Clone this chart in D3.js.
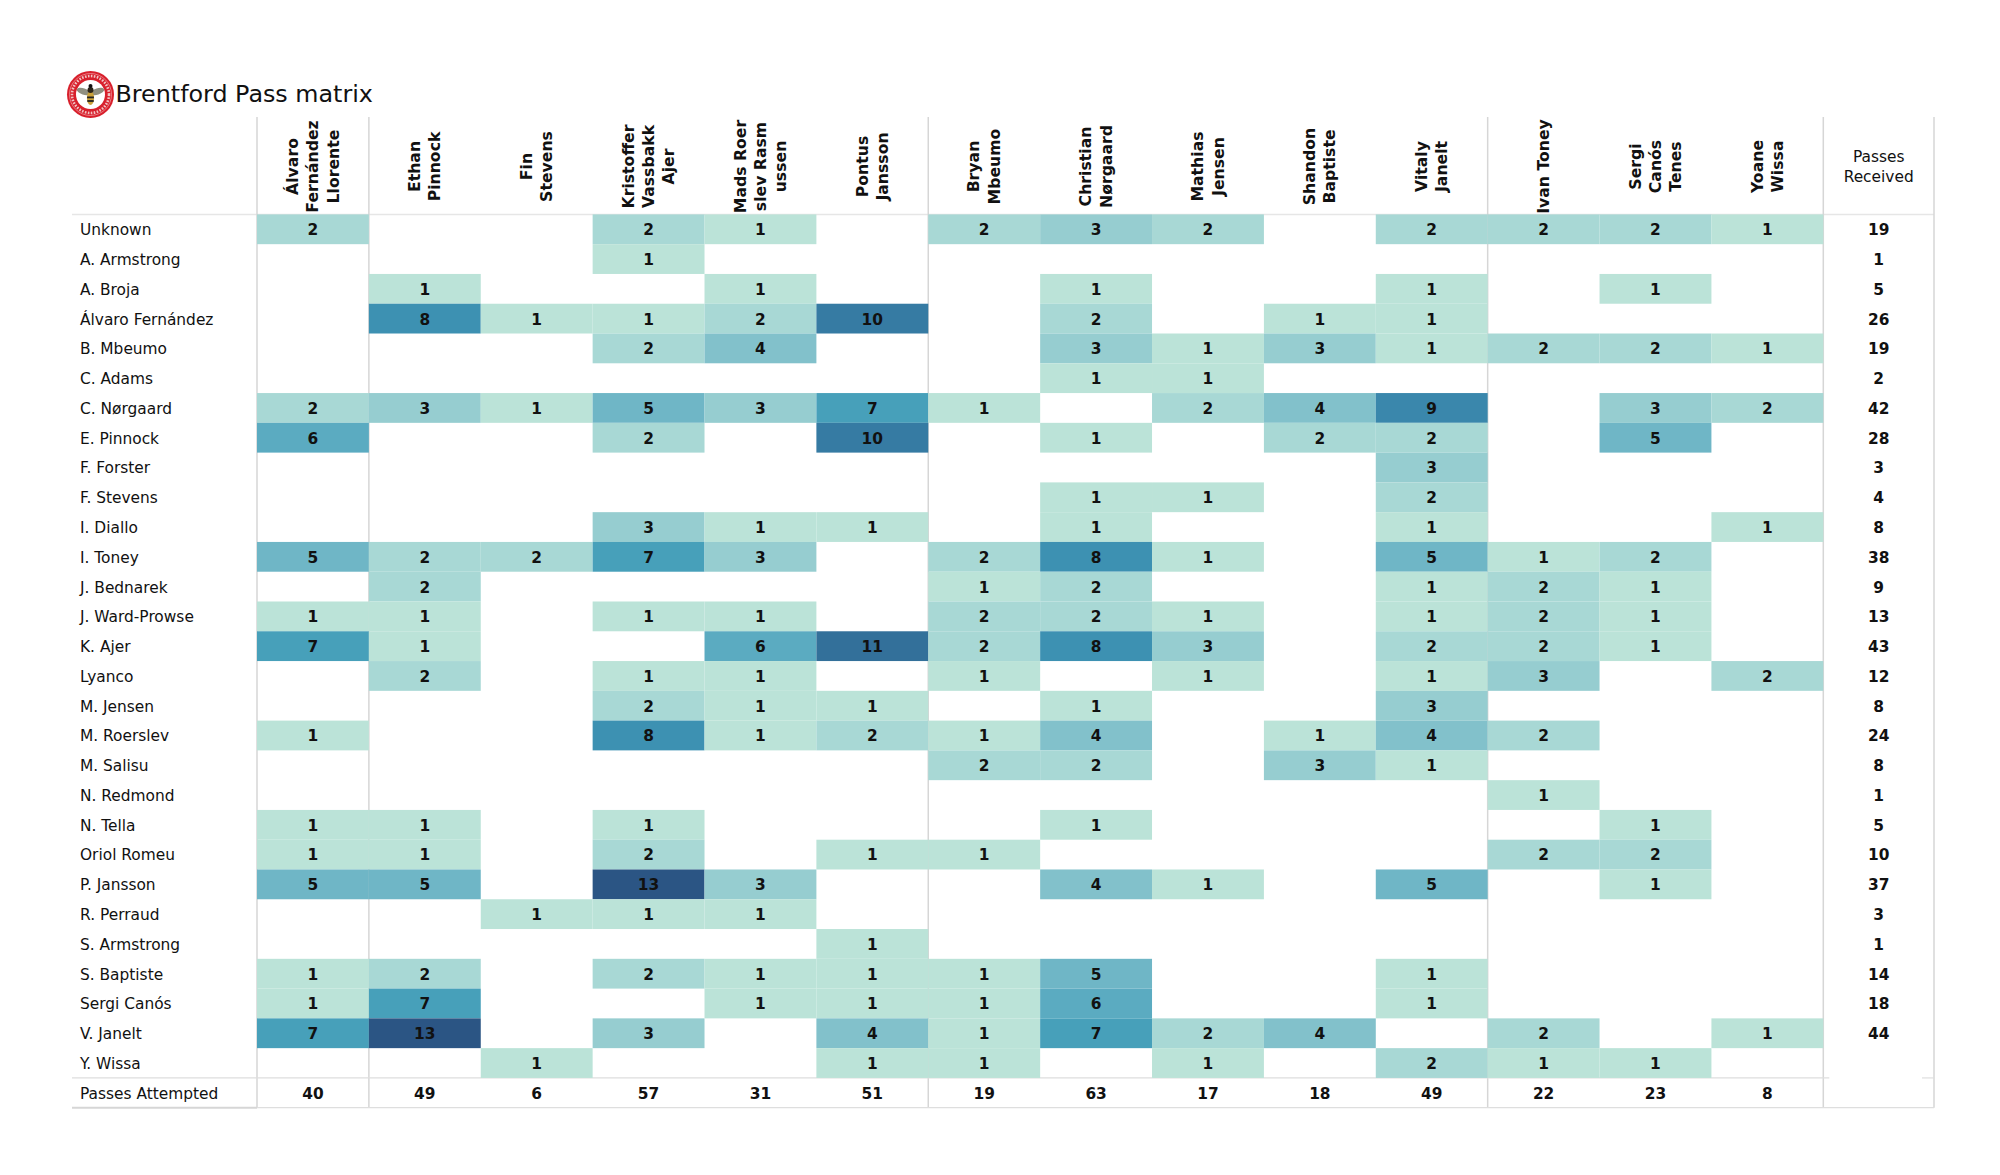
<!DOCTYPE html>
<html><head><meta charset="utf-8">
<script src="https://cdnjs.cloudflare.com/ajax/libs/d3/7.8.5/d3.min.js"></script>
<style>html,body{margin:0;padding:0;background:#fff}svg{display:block}text{font-family:"DejaVu Sans";fill:#111}</style>
</head><body><svg id="c" width="2000" height="1175"></svg>
<script>
const title = "Brentford Pass matrix";
const passers = [["Álvaro","Fernández","Llorente"],["Ethan","Pinnock"],["Fin","Stevens"],["Kristoffer","Vassbakk","Ajer"],["Mads Roer","slev Rasm","ussen"],["Pontus","Jansson"],["Bryan","Mbeumo"],["Christian","Nørgaard"],["Mathias","Jensen"],["Shandon","Baptiste"],["Vitaly","Janelt"],["Ivan Toney"],["Sergi","Canós","Tenes"],["Yoane","Wissa"]];
const receivers = ["Unknown","A. Armstrong","A. Broja","Álvaro Fernández","B. Mbeumo","C. Adams","C. Nørgaard","E. Pinnock","F. Forster","F. Stevens","I. Diallo","I. Toney","J. Bednarek","J. Ward-Prowse","K. Ajer","Lyanco","M. Jensen","M. Roerslev","M. Salisu","N. Redmond","N. Tella","Oriol Romeu","P. Jansson","R. Perraud","S. Armstrong","S. Baptiste","Sergi Canós","V. Janelt","Y. Wissa"];
const matrix = [
[2,0,0,2,1,0,2,3,2,0,2,2,2,1],
[0,0,0,1,0,0,0,0,0,0,0,0,0,0],
[0,1,0,0,1,0,0,1,0,0,1,0,1,0],
[0,8,1,1,2,10,0,2,0,1,1,0,0,0],
[0,0,0,2,4,0,0,3,1,3,1,2,2,1],
[0,0,0,0,0,0,0,1,1,0,0,0,0,0],
[2,3,1,5,3,7,1,0,2,4,9,0,3,2],
[6,0,0,2,0,10,0,1,0,2,2,0,5,0],
[0,0,0,0,0,0,0,0,0,0,3,0,0,0],
[0,0,0,0,0,0,0,1,1,0,2,0,0,0],
[0,0,0,3,1,1,0,1,0,0,1,0,0,1],
[5,2,2,7,3,0,2,8,1,0,5,1,2,0],
[0,2,0,0,0,0,1,2,0,0,1,2,1,0],
[1,1,0,1,1,0,2,2,1,0,1,2,1,0],
[7,1,0,0,6,11,2,8,3,0,2,2,1,0],
[0,2,0,1,1,0,1,0,1,0,1,3,0,2],
[0,0,0,2,1,1,0,1,0,0,3,0,0,0],
[1,0,0,8,1,2,1,4,0,1,4,2,0,0],
[0,0,0,0,0,0,2,2,0,3,1,0,0,0],
[0,0,0,0,0,0,0,0,0,0,0,1,0,0],
[1,1,0,1,0,0,0,1,0,0,0,0,1,0],
[1,1,0,2,0,1,1,0,0,0,0,2,2,0],
[5,5,0,13,3,0,0,4,1,0,5,0,1,0],
[0,0,1,1,1,0,0,0,0,0,0,0,0,0],
[0,0,0,0,0,1,0,0,0,0,0,0,0,0],
[1,2,0,2,1,1,1,5,0,0,1,0,0,0],
[1,7,0,0,1,1,1,6,0,0,1,0,0,0],
[7,13,0,3,0,4,1,7,2,4,0,2,0,1],
[0,0,1,0,0,1,1,0,1,0,2,1,1,0]];
const received = [19,1,5,26,19,2,42,28,3,4,8,38,9,13,43,12,8,24,8,1,5,10,37,3,1,14,18,44,""];
const attempted = [40,49,6,57,31,51,19,63,17,18,49,22,23,8];
const colorStops = [1,2,3,4,5,6,7,8,9,10,11,13];
const colorValues = ["#bbe3d8","#a8d8d5","#96cdd0","#82c1cb","#6fb6c6","#5babc1","#47a0ba","#3d91b2","#3a87ac","#367ba3","#33709a","#2b5584"];
const groupEdges = [0,1,6,11,14];
const attemptedLabel = "Passes Attempted";
const receivedLabel = ["Passes","Received"];

const svg = d3.select("#c");
const colKeys = d3.range(passers.length);
const rowKeys = receivers.concat([attemptedLabel]);
const x = d3.scaleBand().domain(colKeys).range([257,1823.3]);
const y = d3.scaleBand().domain(rowKeys).range([214.4,1107.7]);
const color = d3.scaleLinear().domain(colorStops).range(colorValues);
const leftX=72, rightX=1934, topY=117, rowsEnd=y(attemptedLabel), bottomY=y.range()[1];
const edgeX = i => x.range()[0]+i*x.step();
const dy = 5.9;

// grid
const grid = svg.append("g");
grid.append("line").attr("x1",leftX).attr("x2",rightX).attr("y1",y.range()[0]).attr("y2",y.range()[0]).attr("stroke","#e6e6e6").attr("stroke-width",1.5);
grid.selectAll("line.v").data(groupEdges.map(edgeX).concat([rightX])).join("line").attr("class","v")
  .attr("x1",d=>d).attr("x2",d=>d).attr("y1",topY).attr("y2",bottomY).attr("stroke","#d6d6d6").attr("stroke-width",1.5);
grid.append("line").attr("x1",leftX).attr("x2",edgeX(14)+6).attr("y1",rowsEnd).attr("y2",rowsEnd).attr("stroke","#dedede").attr("stroke-width",1.2);
grid.append("line").attr("x1",rightX-12).attr("x2",rightX).attr("y1",rowsEnd).attr("y2",rowsEnd).attr("stroke","#dedede").attr("stroke-width",1.2);
grid.append("line").attr("x1",edgeX(0)).attr("x2",rightX).attr("y1",bottomY).attr("y2",bottomY).attr("stroke","#dedede").attr("stroke-width",1.2);
grid.append("line").attr("x1",leftX).attr("x2",edgeX(0)).attr("y1",bottomY).attr("y2",bottomY).attr("stroke","#d6d6d6").attr("stroke-width",2);

// cells
const cells = matrix.flatMap((r,i)=>r.map((v,j)=>({row:receivers[i],col:j,v}))).filter(d=>d.v>0);
svg.append("g").selectAll("rect").data(cells).join("rect")
  .attr("x",d=>x(d.col)).attr("y",d=>y(d.row)).attr("width",x.bandwidth()).attr("height",y.bandwidth())
  .attr("fill",d=>color(d.v));
const vals = svg.append("g").attr("font-size",15.4).attr("font-weight","bold").attr("text-anchor","middle");
vals.selectAll("text").data(cells).join("text")
  .attr("x",d=>x(d.col)+x.bandwidth()/2).attr("y",d=>y(d.row)+y.bandwidth()/2+dy).text(d=>d.v);

// row labels
svg.append("g").attr("font-size",15.4).selectAll("text").data(rowKeys).join("text")
  .attr("x",80).attr("y",d=>y(d)+y.bandwidth()/2+dy).text(d=>d);

// totals
const tx=(edgeX(14)+rightX)/2;
svg.append("g").attr("font-size",15.4).attr("font-weight","bold").attr("text-anchor","middle").selectAll("text").data(received).join("text")
  .attr("x",tx).attr("y",(d,i)=>y(receivers[i])+y.bandwidth()/2+dy).text(d=>d);
svg.append("g").attr("font-size",15.4).attr("font-weight","bold").attr("text-anchor","middle").selectAll("text").data(attempted).join("text")
  .attr("x",(d,i)=>x(i)+x.bandwidth()/2).attr("y",y(attemptedLabel)+y.bandwidth()/2+dy).text(d=>d);
svg.append("g").attr("font-size",15.4).attr("text-anchor","middle").selectAll("text").data(receivedLabel).join("text")
  .attr("x",tx).attr("y",(d,i)=>162+i*20).text(d=>d);

// column headers
const lh=20.3, hc=166.5;
const hdr = svg.append("g").attr("font-size",15.7).attr("font-weight","bold").attr("text-anchor","middle")
 .selectAll("g").data(passers).join("g")
 .attr("transform",(d,i)=>`translate(${x(i)+x.bandwidth()/2},${hc}) rotate(-90)`);
hdr.selectAll("text").data(d=>d.map((t,k)=>({t,k,n:d.length}))).join("text")
 .attr("x",0).attr("y",d=>(d.k-(d.n-1)/2)*lh+5.4).text(d=>d.t);

// title
svg.append("text").attr("x",115.5).attr("y",102).attr("font-size",23.8).text(title);

// badge
const b = svg.append("g").attr("transform","translate(90.5,94.5)");
b.append("circle").attr("r",23.5).attr("fill","#d8202c");
b.append("circle").attr("r",21).attr("fill","none").attr("stroke","#f3b8bc").attr("stroke-width",.6);
b.append("circle").attr("r",18.5).attr("fill","none").attr("stroke","#f1c4c4").attr("stroke-width",2.6).attr("stroke-dasharray","1.6 1.4");
b.append("circle").attr("r",14.5).attr("fill","#fff");
b.append("ellipse").attr("cx",-7).attr("cy",-3).attr("rx",7).attr("ry",3.2).attr("fill","#8f8f80").attr("transform","rotate(18 -7 -3)");
b.append("ellipse").attr("cx",7).attr("cy",-3).attr("rx",7).attr("ry",3.2).attr("fill","#8f8f80").attr("transform","rotate(-18 7 -3)");
b.append("ellipse").attr("cx",0).attr("cy",3.5).attr("rx",3.6).attr("ry",7).attr("fill","#caa23a");
b.append("rect").attr("x",-3.4).attr("y",2).attr("width",6.8).attr("height",1.8).attr("fill","#222");
b.append("rect").attr("x",-3.2).attr("y",5.6).attr("width",6.4).attr("height",1.8).attr("fill","#222");
b.append("circle").attr("cy",-4.5).attr("r",3).attr("fill","#2a2418");
b.append("circle").attr("cy",-8.5).attr("r",2).attr("fill","#111");
</script></body></html>
